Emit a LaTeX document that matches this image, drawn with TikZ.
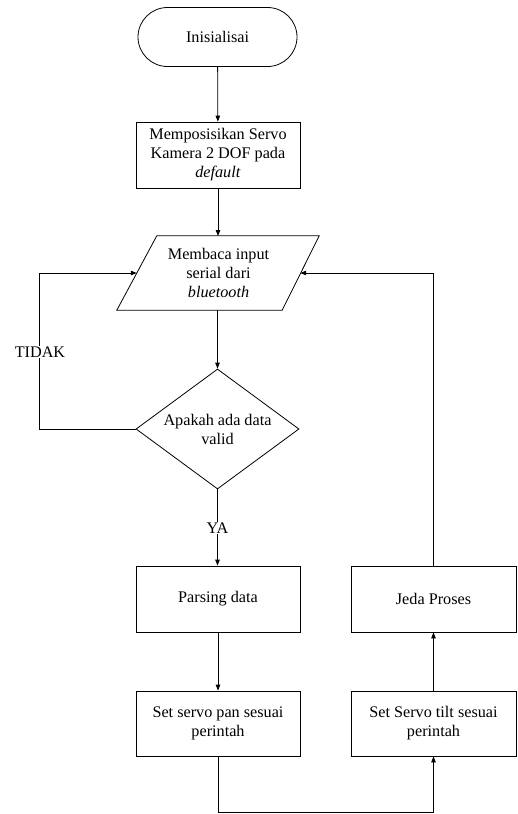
\documentclass[tikz,border=0pt]{standalone}
\usepackage{fontspec}
\setmainfont{Liberation Serif}
\usetikzlibrary{shapes.geometric,arrows.meta}
\begin{document}
\begin{tikzpicture}[x=1pt,y=-1pt,
  font=\fontsize{16.2}{19}\selectfont,
  every node/.style={align=center},
  box/.style={draw, line width=0.8pt, minimum width=164pt, minimum height=66pt, inner sep=0pt},
  term/.style={draw, line width=0.8pt, rounded corners=29.5pt, minimum width=159pt, minimum height=59pt, inner sep=0pt},
  iobox/.style={minimum width=163pt, minimum height=74pt, inner sep=0pt},
  decision/.style={draw, line width=0.8pt, diamond, aspect=1.36, minimum width=163pt, minimum height=120pt, inner sep=0pt},
  conn/.style={line width=0.8pt, -{Triangle[length=6pt,width=4.5pt]}},
  lbl/.style={fill=white, inner sep=1pt}]
\useasboundingbox (0,0) rectangle (517,814);

\node[term] (start) at (217.5,37) {Inisialisai};
\node[box] (init) at (218,155) {Memposisikan Servo\\Kamera 2 DOF pada\\\textit{default}};
\node[iobox] (read) at (218.5,273) {Membaca input\\serial dari\\\textit{bluetooth}};
\draw[line width=0.8pt] ([xshift=20pt]read.north west) -- ([xshift=19pt]read.north east)
  -- ([xshift=-18pt]read.south east) -- ([xshift=-20pt]read.south west) -- cycle;
\node[decision] (dec) at (217.5,429) {Apakah ada data\\valid};
\node[box] (parse) at (218,599) {Parsing data};
\node[box, minimum height=65pt] (pan) at (218,723.5) {Set servo pan sesuai\\perintah};
\node[box, minimum width=165pt] (jeda) at (433.5,599) {Jeda Proses};
\node[box, minimum width=165pt, minimum height=65pt] (tilt) at (433.5,723.5) {Set Servo tilt sesuai\\perintah};

\coordinate (tl) at (39,429);
\coordinate (tu) at (39,273);
\coordinate (bl) at (218,812);
\coordinate (br) at (433.5,812);
\coordinate (jr) at (433.5,273);
\coordinate (ya) at (217.5,528);

\draw[conn] (start) -- (init);
\draw[conn] (init) -- (218,236);
\draw[conn] (read.south -| dec.north) -- (dec.north);
\draw[conn] (dec.south) -- (parse.north -| dec.south);
\node[lbl] (yalbl) at (ya) {YA};
\draw[conn] (dec.west) -- (tl) -- (tu) -- (read.west);
\node[lbl] (tidak) at (40,352) {TIDAK};
\draw[conn] (parse) -- (pan);
\draw[conn] (pan.south) -- (bl) -- (br) -- (tilt.south);
\draw[conn] (tilt) -- (jeda);
\draw[conn] (jeda.north) -- (jr) -- (read.east);
\end{tikzpicture}
\end{document}
